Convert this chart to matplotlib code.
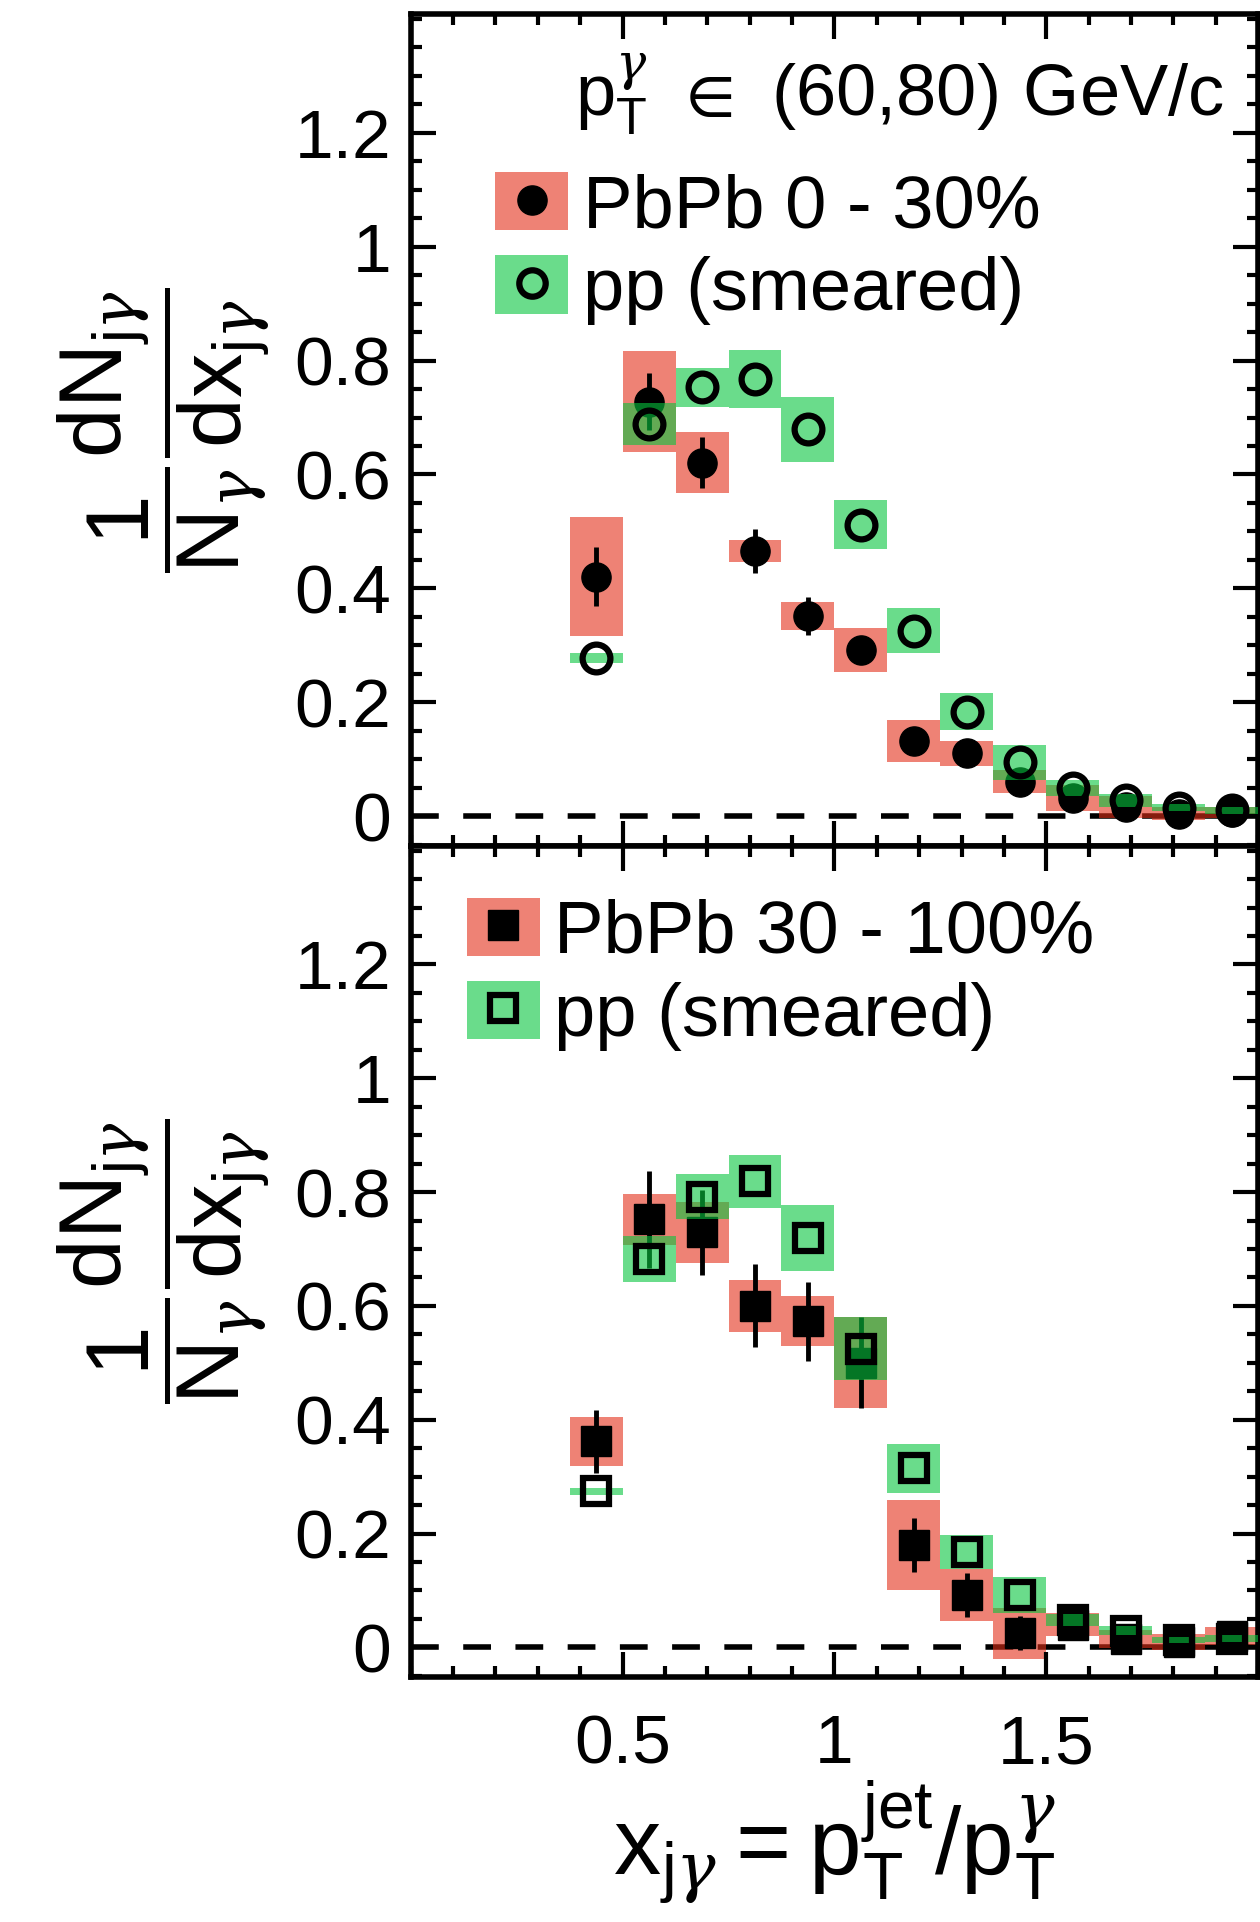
import matplotlib
matplotlib.use('Agg')
import matplotlib.pyplot as plt
from matplotlib.lines import Line2D
from matplotlib.patches import Patch
from matplotlib.ticker import FixedLocator, MultipleLocator, FormatStrFormatter

plt.rcParams['font.family'] = ['Liberation Sans', 'DejaVu Sans']
plt.rcParams['mathtext.fontset'] = 'custom'
plt.rcParams['mathtext.rm'] = 'Liberation Sans'
plt.rcParams['mathtext.it'] = 'DejaVu Serif:italic'
plt.rcParams['mathtext.bf'] = 'Liberation Sans:bold'
plt.rcParams['mathtext.default'] = 'regular'

# x_jgamma bins (width 0.125)
xj = [0.4375, 0.5625, 0.6875, 0.8125, 0.9375, 1.0625, 1.1875,
      1.3125, 1.4375, 1.5625, 1.6875, 1.8125, 1.9375]
bin_width = 0.125

# top panel: PbPb 0-30% vs smeared pp
pbpb_central = [0.421, 0.728, 0.621, 0.466, 0.352, 0.292, 0.132,
                0.111, 0.061, 0.033, 0.017, 0.005, 0.007]
pbpb_central_stat = [0.052, 0.05, 0.045, 0.039, 0.033, 0.015, 0.012,
                     0.01, 0.008, 0.006, 0.005, 0.004, 0.004]
pbpb_central_sys = [0.104, 0.088, 0.054, 0.019, 0.024, 0.039, 0.037,
                    0.022, 0.02, 0.023, 0.019, 0.012, 0.01]
pp_central = [0.278, 0.689, 0.753, 0.767, 0.679, 0.512, 0.326,
              0.184, 0.095, 0.05, 0.028, 0.015, 0.011]
pp_central_sys = [0.008, 0.037, 0.034, 0.051, 0.057, 0.043, 0.04,
                  0.032, 0.031, 0.014, 0.012, 0.006, 0.006]

# bottom panel: PbPb 30-100% vs smeared pp
pbpb_periph = [0.362, 0.752, 0.729, 0.6, 0.573, 0.5, 0.18,
               0.092, 0.025, 0.04, 0.015, 0.01, 0.02]
pbpb_periph_stat = [0.055, 0.085, 0.075, 0.073, 0.069, 0.08, 0.047,
                    0.038, 0.03, 0.015, 0.012, 0.01, 0.01]
pbpb_periph_sys = [0.043, 0.045, 0.054, 0.046, 0.044, 0.08, 0.079,
                   0.045, 0.045, 0.02, 0.016, 0.014, 0.015]
pp_periph = [0.274, 0.682, 0.792, 0.819, 0.72, 0.525, 0.315,
             0.167, 0.092, 0.048, 0.029, 0.013, 0.015]
pp_periph_sys = [0.006, 0.04, 0.04, 0.047, 0.058, 0.056, 0.043,
                 0.03, 0.032, 0.01, 0.008, 0.006, 0.006]

red = (227/255, 47/255, 25/255)
green = (7/255, 198/255, 62/255)
box_alpha = 0.6
g = r'\mathit{\gamma}'


def draw_panel(ax, pbpb, pbpb_stat, pbpb_sys, pp, pp_sys, marker, labels):
    lo = [v - s for v, s in zip(pbpb, pbpb_sys)]
    ax.bar(xj, [2 * s for s in pbpb_sys], width=bin_width, bottom=lo,
           color=red, alpha=box_alpha, linewidth=0, zorder=1)
    ax.errorbar(xj, pbpb, yerr=pbpb_stat, fmt=marker, color='black', ms=21,
                elinewidth=3.5, capsize=0, zorder=2)
    lo = [v - s for v, s in zip(pp, pp_sys)]
    ax.bar(xj, [2 * s for s in pp_sys], width=bin_width, bottom=lo,
           color=green, alpha=box_alpha, linewidth=0, zorder=3)
    ax.plot(xj, pp, linestyle='none', marker=marker, ms=20 if marker == 'o' else 19,
            mew=4.5, mfc='none', mec='black', zorder=4)
    ax.axhline(0, color='black', lw=4, dashes=(5, 4.4), zorder=0)

    h_pbpb = (Patch(facecolor=red, alpha=box_alpha, linewidth=0),
              Line2D([], [], linestyle='none', marker=marker, ms=21, color='black'))
    h_pp = (Patch(facecolor=green, alpha=box_alpha, linewidth=0),
            Line2D([], [], linestyle='none', marker=marker, ms=19, mew=4.5,
                   mfc='none', mec='black'))
    return [h_pbpb, h_pp], labels


def style_axis(ax):
    ax.set_xlim(0, 2)
    ax.set_ylim(-0.052, 1.408)
    ax.xaxis.set_major_locator(FixedLocator([0.5, 1.0, 1.5]))
    ax.xaxis.set_minor_locator(MultipleLocator(0.1))
    ax.yaxis.set_major_locator(FixedLocator([0, 0.2, 0.4, 0.6, 0.8, 1.0, 1.2]))
    ax.yaxis.set_minor_locator(MultipleLocator(0.05))
    ax.yaxis.set_major_formatter(FormatStrFormatter('%g'))
    ax.xaxis.set_major_formatter(FormatStrFormatter('%g'))
    ax.tick_params(which='both', direction='in', top=True, right=True,
                   width=3, labelsize=50)
    ax.tick_params(which='major', length=18)
    ax.tick_params(which='minor', length=8)
    ax.tick_params(axis='y', pad=14)
    ax.tick_params(axis='x', pad=26)
    for sp in ax.spines.values():
        sp.set_linewidth(4)
    ax.set_ylabel(r'$\dfrac{1}{N_{%s}}\dfrac{dN_{j%s}}{dx_{j%s}}$' % (g, g, g),
                  fontsize=64, va='center')
    ax.yaxis.set_label_coords(-0.292, 0.5)


fig = plt.figure(figsize=(12.6, 19.22), dpi=100)
ax_top = fig.add_axes([0.326, 0.5598, 0.6725, 0.4329])
ax_bot = fig.add_axes([0.326, 0.1275, 0.6725, 0.4323])

handles, labels = draw_panel(ax_top, pbpb_central, pbpb_central_stat, pbpb_central_sys,
                             pp_central, pp_central_sys, 'o',
                             ['PbPb 0 - 30%', 'pp (smeared)'])
style_axis(ax_top)
ax_top.tick_params(labelbottom=False)
ax_top.text(0.96, 0.877, r'$p_{T}^{%s}\ \in\ (60{,}80)\ GeV/c$' % g, transform=ax_top.transAxes,
            ha='right', va='baseline', fontsize=52)
ax_top.legend(handles, labels, loc='upper left', bbox_to_anchor=(0.1, 0.81),
              frameon=False, fontsize=53.5, handlelength=0.98, handleheight=0.83,
              handletextpad=0.2, labelspacing=0.18, borderpad=0, borderaxespad=0)

handles, labels = draw_panel(ax_bot, pbpb_periph, pbpb_periph_stat, pbpb_periph_sys,
                             pp_periph, pp_periph_sys, 's',
                             ['PbPb 30 - 100%', 'pp (smeared)'])
style_axis(ax_bot)
ax_bot.legend(handles, labels, loc='upper left', bbox_to_anchor=(0.066, 0.938),
              frameon=False, fontsize=53.5, handlelength=0.98, handleheight=0.83,
              handletextpad=0.2, labelspacing=0.18, borderpad=0, borderaxespad=0)
ax_bot.set_xlabel(r'$x_{j%s} = p_{T}^{jet}/p_{T}^{%s}$' % (g, g), fontsize=68, va='baseline')
ax_bot.xaxis.set_label_coords(0.5, -0.238)

fig.savefig('out.png', dpi=100)
